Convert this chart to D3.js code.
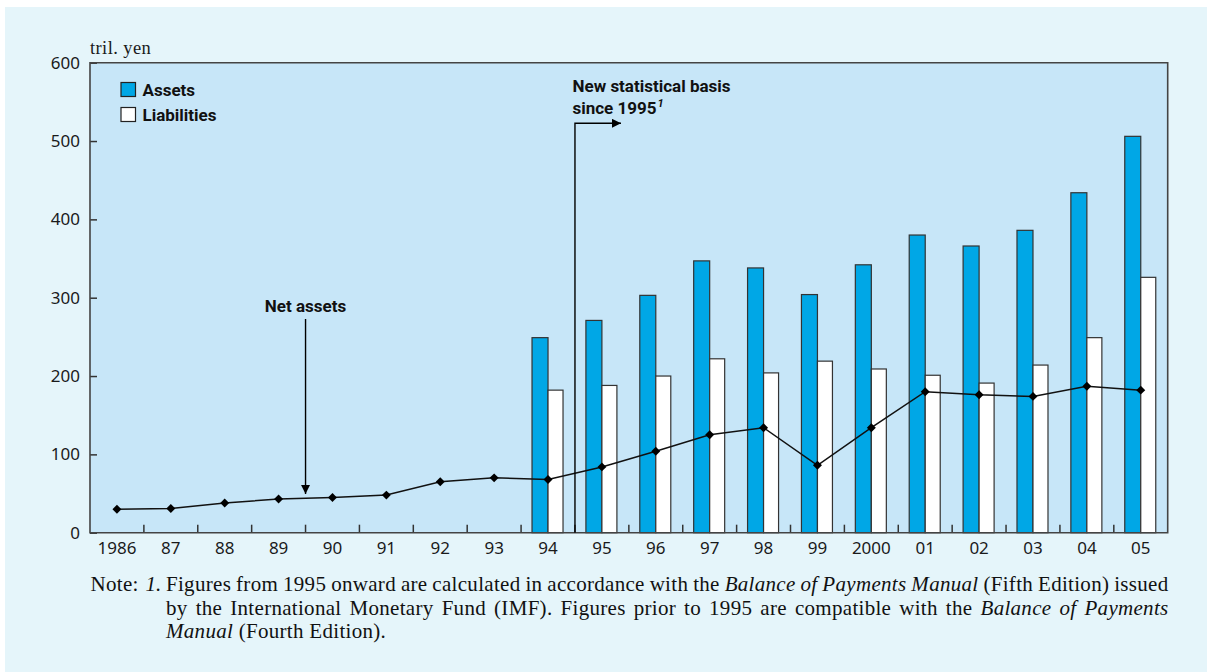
<!DOCTYPE html>
<html>
<head>
<meta charset="utf-8">
<script src="https://cdn.jsdelivr.net/npm/d3@7"></script>
<style>
  html, body { margin: 0; padding: 0; background: #ffffff; }
  svg { display: block; }
  .cond { font-family: "Liberation Sans Narrow", "Arial Narrow", "Roboto", sans-serif; font-weight: bold; }
  .serif { font-family: "Liberation Serif", "DejaVu Serif", serif; }
  .tick text { font-family: "Noto Sans", "Open Sans", sans-serif; }
</style>
</head>
<body>
<svg id="chart" width="1207" height="672"></svg>
<script>
// Japan's external assets and liabilities, trillion yen, year-end
const years = ["1986","87","88","89","90","91","92","93","94","95","96","97","98","99","2000","01","02","03","04","05"];
const assets = [null,null,null,null,null,null,null,null,249,271,303,347,338,304,342,380,366,386,434,506];
const liabilities = [null,null,null,null,null,null,null,null,182,188,200,222,204,219,209,201,191,214,249,326];
const netAssets = [30,31,38,43,45,48,65,70,68,84,104,125,134,86,134,180,176,174,187,182];
const yTicks = [0,100,200,300,400,500,600];

const svg = d3.select("#chart");
const W = 1207, H = 672;

// background panels
svg.append("rect").attr("x", 0).attr("y", 0).attr("width", W).attr("height", H).attr("fill", "#ffffff");
svg.append("rect").attr("x", 5).attr("y", 7).attr("width", W - 5).attr("height", H - 7).attr("fill", "#e5f5fa");

const plot = { left: 90, right: 1167.7, top: 62.7, bottom: 532.7 };

const x = d3.scaleBand().domain(years).range([plot.left, plot.right]).padding(0);
const y = d3.scaleLinear().domain([0, 600]).range([plot.bottom, plot.top]);

svg.append("rect")
  .attr("x", plot.left).attr("y", plot.top)
  .attr("width", plot.right - plot.left).attr("height", plot.bottom - plot.top)
  .attr("fill", "#c7e6f8");

// bars
const barW = 16;
const rows = years.map((yr, i) => ({ yr, a: assets[i], l: liabilities[i], n: netAssets[i] }));
const g = svg.append("g");
const mid = d => x(d.yr) + x.bandwidth() / 2;

g.selectAll("rect.asset").data(rows.filter(d => d.a != null)).join("rect")
  .attr("class", "asset")
  .attr("x", d => mid(d) - barW).attr("width", barW)
  .attr("y", d => y(d.a)).attr("height", d => y(0) - y(d.a))
  .attr("fill", "#00a7e6").attr("stroke", "#333").attr("stroke-width", 1.2);

g.selectAll("rect.liab").data(rows.filter(d => d.l != null)).join("rect")
  .attr("class", "liab")
  .attr("x", d => mid(d)).attr("width", barW - 1)
  .attr("y", d => y(d.l)).attr("height", d => y(0) - y(d.l))
  .attr("fill", "#ffffff").attr("stroke", "#333").attr("stroke-width", 1.2);

// axes
const yAxis = d3.axisLeft(y).tickValues(yTicks).tickSizeInner(-7).tickSizeOuter(0).tickPadding(10);
const yg = svg.append("g").attr("transform", `translate(${plot.left},0)`).call(yAxis);
yg.select(".domain").remove();
yg.selectAll(".tick line").attr("stroke", "#333").attr("stroke-width", 1.5);
yg.selectAll(".tick text").attr("font-size", 17).attr("fill", "#1a1a1a");

const xAxis = d3.axisBottom(x).tickSize(0).tickPadding(9);
const xg = svg.append("g").attr("transform", `translate(0,${plot.bottom})`).call(xAxis);
xg.select(".domain").remove();
xg.selectAll(".tick text").attr("font-size", 17).attr("fill", "#1a1a1a");

// category boundary ticks pointing up into the plot
svg.append("g").selectAll("line").data(years.slice(1)).join("line")
  .attr("x1", d => x(d)).attr("x2", d => x(d))
  .attr("y1", plot.bottom).attr("y2", plot.bottom - 8)
  .attr("stroke", "#333").attr("stroke-width", 1.5);

// frame
const frame = svg.append("g").attr("stroke", "#444").attr("stroke-width", 1.6).attr("fill", "none");
frame.append("path").attr("d", `M${plot.left},${plot.top}H${plot.right}V${plot.bottom}H${plot.left}Z`);

// net assets line
const line = d3.line().x(d => mid(d)).y(d => y(d.n));
svg.append("path").datum(rows).attr("d", line)
  .attr("fill", "none").attr("stroke", "#111").attr("stroke-width", 1.5);
svg.append("g").selectAll("path").data(rows).join("path")
  .attr("d", d3.symbol(d3.symbolSquare, 40))
  .attr("transform", d => `translate(${mid(d)},${y(d.n)}) rotate(45)`)
  .attr("fill", "#000");

// unit label
svg.append("text").attr("class", "serif").attr("x", 90).attr("y", 54)
  .attr("font-size", 18.5).attr("letter-spacing", 0.4).attr("fill", "#1a1a1a").text("tril. yen");

// legend
const legend = [{ label: "Assets", fill: "#00a7e6" }, { label: "Liabilities", fill: "#ffffff" }];
const lg = svg.append("g");
legend.forEach((d, i) => {
  lg.append("rect").attr("x", 121).attr("y", 82.5 + i * 25).attr("width", 14.5).attr("height", 14)
    .attr("fill", d.fill).attr("stroke", "#222").attr("stroke-width", 1.2);
  lg.append("text").attr("class", "cond").attr("x", 142.5).attr("y", 95.5 + i * 25)
    .attr("font-size", 17).attr("fill", "#111").text(d.label);
});

// arrowheads
const defs = svg.append("defs");
defs.append("marker").attr("id", "arrow").attr("viewBox", "0 0 10 10")
  .attr("refX", 10).attr("refY", 5).attr("markerWidth", 9).attr("markerHeight", 9)
  .attr("markerUnits", "userSpaceOnUse").attr("orient", "auto")
  .append("path").attr("d", "M0,0L10,5L0,10Z").attr("fill", "#000");

// statistical basis break between 1994 and 1995
const breakX = x("95");
svg.append("path")
  .attr("d", `M${breakX},${plot.bottom}V123.3H621`)
  .attr("fill", "none").attr("stroke", "#000").attr("stroke-width", 1.4)
  .attr("marker-end", "url(#arrow)");
const nb = svg.append("text").attr("class", "cond").attr("font-size", 17).attr("fill", "#111");
nb.append("tspan").attr("x", 572.5).attr("y", 92).text("New statistical basis");
nb.append("tspan").attr("x", 572.5).attr("y", 113.5).text("since 1995");
nb.append("tspan").attr("dy", -6.5).attr("dx", 1).attr("font-size", 11).attr("font-style", "italic").text("1");

// net assets callout
const netX = x("90");
svg.append("text").attr("class", "cond").attr("x", netX).attr("y", 311.5)
  .attr("text-anchor", "middle").attr("font-size", 17).attr("fill", "#111").text("Net assets");
svg.append("line").attr("x1", netX).attr("x2", netX).attr("y1", 319).attr("y2", 494)
  .attr("stroke", "#000").attr("stroke-width", 1.4).attr("marker-end", "url(#arrow)");

// footnote
const noteSize = 21, noteTrack = 0.3;
const noteLeft = 166, noteRight = 1168.5;
svg.append("text").attr("class", "serif").attr("x", 90.5).attr("y", 591)
  .attr("font-size", noteSize).attr("letter-spacing", noteTrack).attr("fill", "#111").text("Note:");
svg.append("text").attr("class", "serif").attr("x", 145.5).attr("y", 591)
  .attr("font-size", noteSize).attr("font-style", "italic").attr("fill", "#111").text("1.");

const noteLines = [
  { y: 591, justify: true, parts: [
    ["Figures from 1995 onward are calculated in accordance with the ", false],
    ["Balance of Payments Manual", true],
    [" (Fifth Edition) issued", false]] },
  { y: 614.5, justify: true, parts: [
    ["by the International Monetary Fund (IMF). Figures prior to 1995 are compatible with the ", false],
    ["Balance of Payments", true]] },
  { y: 638, justify: false, parts: [
    ["Manual", true],
    [" (Fourth Edition).", false]] }
];
noteLines.forEach(ln => {
  const t = svg.append("text").attr("class", "serif").attr("x", noteLeft).attr("y", ln.y)
    .attr("font-size", noteSize).attr("letter-spacing", noteTrack)
    .attr("fill", "#111").style("white-space", "pre");
  ln.parts.forEach(([s, it]) => t.append("tspan").attr("font-style", it ? "italic" : "normal").text(s));
  if (ln.justify) {
    const natural = t.node().getComputedTextLength();
    const spaces = ln.parts.map(p => p[0]).join("").split(" ").length - 1;
    t.attr("word-spacing", (noteRight - noteLeft - natural) / spaces);
  }
});
</script>
</body>
</html>
